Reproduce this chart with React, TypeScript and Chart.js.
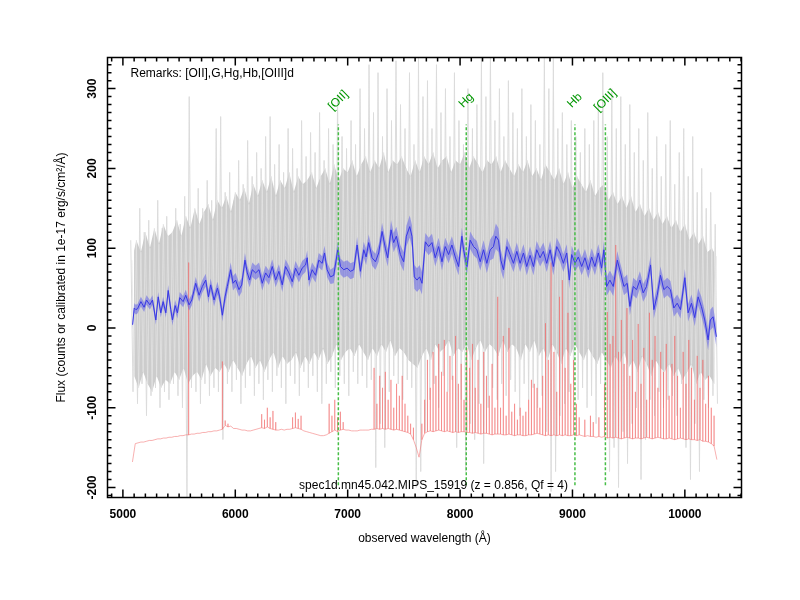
import React, { useEffect, useRef } from 'react';
import { Chart, registerables } from 'chart.js';

Chart.register(...registerables);

const N = null;

// ---------- smoothed spectrum (blue) ----------
const blueWave = [
  5086, 5101, 5115, 5130, 5160, 5189, 5210, 5240, 5263, 5293,
  5314, 5337, 5358, 5382, 5403, 5426, 5441, 5465, 5485, 5506,
  5536, 5559, 5589, 5613, 5648, 5678, 5707, 5737, 5761, 5781,
  5811, 5841, 5861, 5885, 5909, 5929, 5959, 5980, 6003, 6033,
  6057, 6086, 6107, 6128, 6151, 6181, 6211, 6240, 6270, 6299,
  6329, 6359, 6388, 6418, 6447, 6477, 6507, 6536, 6566, 6595,
  6625, 6640, 6655, 6684, 6714, 6743, 6773, 6794, 6817, 6847,
  6876, 6912, 6936, 6965, 6995, 7025, 7054, 7084, 7113, 7143,
  7164, 7187, 7217, 7247, 7276, 7306, 7335, 7356, 7386, 7409,
  7433, 7469, 7498, 7522, 7552, 7572, 7593, 7617, 7640, 7661,
  7691, 7720, 7750, 7779, 7809, 7839, 7868, 7898, 7927, 7957,
  7987, 8016, 8031, 8061, 8090, 8120, 8149, 8179, 8209, 8238,
  8268, 8297, 8318, 8342, 8363, 8386, 8416, 8445, 8475, 8505,
  8534, 8564, 8593, 8623, 8653, 8682, 8712, 8741, 8771, 8801,
  8830, 8860, 8889, 8919, 8949, 8972, 8993, 9023, 9052, 9082,
  9111, 9141, 9171, 9200, 9230, 9259, 9280, 9304, 9333, 9363,
  9399, 9428, 9458, 9487, 9511, 9541, 9570, 9600, 9629, 9659,
  9695, 9724, 9754, 9783, 9813, 9843, 9872, 9902, 9932, 9961,
  10000, 10029, 10059, 10088, 10118, 10147, 10177, 10207, 10227, 10251,
  10281,
];
const blueFlux = [
  4, 25, 23, 24, 33, 26, 35, 29, 35, 10,
  39, 19, 33, 19, 47, 23, 10, 28, 19, 38,
  33, 41, 29, 35, 56, 41, 52, 60, 39, 54,
  35, 50, 39, 16, 39, 52, 73, 56, 60, 48,
  54, 85, 69, 60, 73, 69, 73, 56, 69, 63,
  77, 60, 71, 54, 77, 69, 58, 75, 66, 75,
  79, 88, 60, 73, 66, 85, 81, 94, 73, 64,
  66, 98, 77, 73, 75, 71, 73, 104, 71, 98,
  89, 107, 88, 83, 94, 121, 100, 88, 123, 107,
  115, 92, 83, 115, 127, 115, 64, 60, 64, 56,
  108, 102, 107, 88, 102, 83, 102, 92, 104, 89,
  77, 115, 98, 77, 110, 102, 98, 83, 98, 81,
  98, 102, 115, 110, 85, 73, 102, 92, 81, 96,
  81, 94, 77, 91, 77, 98, 88, 96, 81, 98,
  77, 102, 94, 81, 94, 60, 92, 81, 89, 77,
  88, 73, 89, 77, 94, 75, 98, 52, 60, 52,
  85, 69, 52, 56, 27, 52, 48, 60, 44, 52,
  79, 23, 41, 66, 48, 52, 48, 25, 31, 23,
  63, 19, 31, 13, 39, 27, 10, -15, 10, 14,
  -11,
];
const blueErr = [
  6, 6, 6, 6, 6, 6, 6, 6, 6, 6,
  6, 6, 6, 6, 7, 7, 7, 7, 7, 7,
  7, 7, 7, 7, 8, 8, 8, 8, 8, 8,
  8, 8, 8, 8, 9, 9, 9, 9, 9, 9,
  9, 9, 9, 9, 9, 9, 9, 9, 9, 9,
  9, 9, 9, 9, 9, 9, 9, 9, 9, 9,
  9, 9, 9, 9, 9, 9, 9, 9, 9, 9,
  10, 10, 10, 10, 10, 10, 10, 10, 10, 10,
  10, 10, 10, 10, 11, 11, 11, 11, 12, 12,
  12, 12, 12, 13, 14, 14, 15, 15, 15, 14,
  11, 11, 11, 11, 11, 11, 11, 11, 11, 11,
  11, 11, 11, 11, 11, 11, 11, 11, 12, 12,
  13, 15, 16, 15, 13, 12, 11, 11, 11, 11,
  11, 11, 11, 11, 11, 11, 11, 11, 11, 11,
  11, 11, 11, 11, 11, 11, 11, 11, 11, 11,
  11, 11, 11, 11, 11, 11, 11, 12, 12, 12,
  11, 11, 11, 11, 11, 11, 11, 11, 11, 11,
  11, 11, 11, 11, 11, 11, 11, 11, 11, 11,
  11, 11, 11, 11, 11, 12, 12, 13, 13, 13,
  13,
];

// ---------- raw spectrum (grey): outer excursions, alternating high / low ----------
const GREY_START = 5070;
const GREY_STEP = 20;
const greyHi = [
  110, 95, 150, 120, 135, 100, 160, 125, 140, 115,
  150, 130, 165, 290, 140, 175, 150, 185, 160, 250,
  265, 170, 195, 160, 210, 180, 235, 190, 220, 200,
  240, 265, 205, 230, 195, 250, 225, 200, 260, 215,
  245, 220, 270, 210, 250, 230, 290, 240, 225, 260,
  230, 300, 250, 330, 270, 320, 240, 300, 260, 335,
  280, 250, 320, 230, 340, 290, 310, 250, 330, 270,
  300, 240, 320, 260, 230, 300, 250, 280, 340, 290,
  345, 260, 300, 240, 310, 270, 250, 300, 240, 280,
  260, 230, 345, 300, 340, 250, 270, 230, 260, 240,
  220, 250, 230, 260, 280, 320, 240, 300, 250, 290,
  230, 280, 220, 250, 210, 270, 200, 240, 190, 230,
  260, 180, 220, 250, 190, 240, 170, 200, 150, 170,
  130,
];
const greyLo = [
  -80, -95, -70, -110, -85, -75, -100, -80, -90, -70,
  -85, -100, -215, -75, -80, -95, -70, -85, -75, -80,
  -140, -70, -80, -65, -95, -75, -60, -85, -70, -90,
  -65, -80, -60, -75, -95, -60, -70, -85, -55, -75,
  -60, -80, -95, -70, -55, -75, -60, -70, -85, -55,
  -70, -60, -75, -65, -175, -120, -150, -80, -60, -70,
  -90, -65, -75, -200, -180, -130, -90, -70, -100, -60,
  -80, -65, -150, -90, -180, -120, -140, -95, -170, -100,
  -75, -90, -70, -85, -65, -80, -110, -70, -90, -75,
  -100, -85, -130, -205, -180, -110, -95, -80, -70, -90,
  -75, -100, -85, -120, -70, -90, -180, -150, -200, -130,
  -170, -120, -100, -190, -140, -90, -110, -80, -100, -90,
  -85, -110, -70, -150, -190, -120, -180, -90, -100, -85,
  -95,
];
// ---------- raw spectrum (grey): dense core, alternating high / low ----------
const CORE_START = 5080;
const CORE_STEP = 20;
const coreHi = [
  85, 110, 95, 120, 100, 125, 105, 130, 115, 120,
  135, 115, 140, 125, 150, 130, 145, 155, 135, 160,
  150, 165, 145, 170, 160, 175, 155, 180, 165, 185,
  170, 190, 165, 185, 175, 195, 170, 190, 180, 185,
  195, 175, 190, 200, 180, 205, 185, 200, 195, 210,
  190, 205, 215, 195, 210, 200, 220, 195, 210, 205,
  215, 200, 190, 210, 195, 215, 205, 220, 200, 210,
  215, 195, 210, 205, 220, 200, 215, 205, 195, 210,
  205, 215, 195, 210, 200, 190, 205, 195, 210, 190,
  200, 185, 205, 195, 185, 200, 180, 195, 175, 190,
  180, 170, 185, 165, 175, 180, 160, 170, 155, 165,
  150, 165, 145, 155, 140, 150, 135, 145, 130, 140,
  125, 135, 120, 130, 110, 120, 105, 115, 95, 100,
  90,
];
const coreLo = [
  -60, -75, -55, -70, -80, -60, -75, -65, -70, -55,
  -65, -50, -70, -60, -55, -65, -45, -60, -50, -55,
  -45, -55, -40, -50, -60, -45, -35, -50, -40, -55,
  -40, -30, -50, -35, -45, -40, -30, -50, -35, -45,
  -30, -40, -25, -45, -35, -20, -40, -30, -25, -35,
  -20, -30, -40, -25, -35, -20, -30, -15, -35, -25,
  -30, -40, -45, -50, -35, -25, -40, -20, -30, -25,
  -15, -35, -25, -30, -20, -40, -25, -15, -30, -20,
  -25, -35, -15, -30, -20, -25, -40, -20, -30, -15,
  -35, -25, -40, -20, -30, -45, -25, -35, -20, -30,
  -40, -25, -35, -45, -30, -40, -50, -35, -45, -30,
  -50, -40, -55, -35, -45, -60, -40, -50, -55, -45,
  -60, -50, -65, -55, -45, -70, -55, -65, -60, -70,
];

// ---------- error spectrum (red), offset baseline + spikes ----------
const RED_START = 5085;
const RED_STEP = 25;
const redBase = [
  -168, -145, -144, -143, -143, -142, -141, -141, -140, -139,
  -139, -138, -138, -137, -137, -136, -136, -135, -135, -134,
  -134, -133, -133, -132, -132, -131, -131, -130, -130, -129,
  -129, -128, -127, -122, -124, -123, -126, -126, -127, -128,
  -128, -129, -129, -128, -127, -126, -125, -126, -124, -126,
  -127, -128, -128, -127, -128, -127, -127, -126, -125, -126,
  -127, -129, -130, -131, -132, -133, -134, -135, -135, -134,
  -132, -130, -128, -130, -128, -127, -128, -128, -129, -129,
  -129, -128, -128, -128, -128, -127, -127, -126, -127, -126,
  -127, -126, -127, -128, -127, -128, -129, -130, -131, -133,
  -140, -150, -162, -140, -132, -130, -129, -130, -129, -128,
  -129, -130, -129, -130, -131, -130, -131, -130, -130, -131,
  -131, -132, -131, -132, -133, -132, -132, -133, -134, -133,
  -133, -133, -134, -134, -133, -134, -135, -134, -134, -135,
  -135, -134, -134, -133, -132, -133, -134, -135, -134, -135,
  -134, -135, -134, -135, -134, -135, -135, -134, -135, -134,
  -135, -136, -135, -136, -136, -137, -136, -137, -136, -138,
  -137, -138, -137, -138, -139, -138, -137, -138, -139, -138,
  -138, -139, -138, -137, -138, -139, -138, -137, -138, -139,
  -139, -138, -139, -140, -139, -138, -139, -140, -139, -140,
  -140, -141, -140, -142, -142, -143, -145, -148, -165,
];
const redPeak = [
  N, N, N, N, N, N, N, N, N, N,
  N, N, N, N, N, N, N, N, N, N,
  82, N, N, N, N, N, N, N, N, N,
  N, N, -42, -116, -120, N, N, N, N, N,
  N, N, N, N, N, N, -108, -115, -100, -112,
  -104, -118, N, N, N, N, N, -112, -106, -114,
  -110, N, N, N, N, N, N, N, N, N,
  -95, -110, -90, -112, -105, -118, N, N, N, N,
  N, N, N, N, N, N, -50, -95, -60, -75,
  -55, -90, -65, -100, -70, -85, -60, -95, -110, -120,
  -125, N, N, -120, -90, -40, -75, -30, -60, -20,
  -55, -15, -80, -35, -60, -10, -70, -45, -90, -25,
  -50, -20, -75, -40, -95, -30, -60, -85, -45, -100,
  39, -100, -10, -110, 0, -105, -95, -115, -100, -110,
  -105, -90, -65, -70, -75, -100, -60, 6, -40, 82,
  -30, -80, 39, 60, -50, 19, -70, -40, -95, -112,
  N, -115, N, -110, -118, N, -112, N, -70, 20,
  -20, -10, 104, -30, 10, -45, 25, -60, -15, -80,
  5, -70, -25, -90, 19, -40, -10, -75, -30, -55,
  -20, -85, -45, -10, -60, -100, -30, -70, -15, -50,
  -90, -35, -75, -40, -95, -60, -100, -110, N,
];

// ---------- identified lines ----------
const lineWave = [6917, 8055, 9022, 9293];
const lineName = ['[OII]', 'Hg', 'Hb', '[OIII]'];
const LINE_LO = -197;
const LINE_HI = 255;

// ---------- axes ----------
const X_MIN = 4863;
const X_MAX = 10504;
const Y_MIN = -212.5;
const Y_MAX = 339;
const xTickLabels = [5000, 6000, 7000, 8000, 9000, 10000];
const yTickLabels = [-200, -100, 0, 100, 200, 300];
const remarksText = 'Remarks: [OII],G,Hg,Hb,[OIII]d';
const specText = 'spec1d.mn45.042.MIPS_15919 (z = 0.856, Qf = 4)';
const xTitle = 'observed wavelength (Å)';
const yTitle = 'Flux (counts or calibrated in 1e-17 erg/s/cm²/Å)';

const FONT = '"Liberation Sans", Arial, Helvetica, sans-serif';

const framePlugin = {
  id: 'frameAxes',
  afterDraw(chart: any) {
    const { ctx, chartArea: a, scales } = chart;
    const xs = scales.x;
    const ys = scales.y;
    ctx.save();

    // line labels
    ctx.fillStyle = 'rgb(0,150,0)';
    ctx.font = `12px ${FONT}`;
    ctx.textAlign = 'center';
    ctx.textBaseline = 'middle';
    lineWave.forEach((w, i) => {
      const px = xs.getPixelForValue(w);
      const py = ys.getPixelForValue(LINE_HI) - 24;
      ctx.save();
      ctx.translate(px, py);
      ctx.rotate(-Math.PI / 4);
      ctx.fillText(lineName[i], 0, 0);
      ctx.restore();
    });

    // annotations
    ctx.fillStyle = '#000';
    ctx.textAlign = 'left';
    ctx.fillText(remarksText, a.left + 23, a.top + 16);
    ctx.textAlign = 'center';
    ctx.fillText(specText, (a.left + a.right) / 2 + 9, a.bottom - 12);

    // frame
    ctx.strokeStyle = '#000';
    ctx.lineWidth = 1.5;
    ctx.strokeRect(a.left, a.top, a.right - a.left, a.bottom - a.top);

    // ticks
    ctx.beginPath();
    for (let v = Math.ceil(X_MIN / 100) * 100; v <= X_MAX; v += 100) {
      const px = xs.getPixelForValue(v);
      const len = v % 1000 === 0 ? 8 : 4;
      ctx.moveTo(px, a.bottom);
      ctx.lineTo(px, a.bottom - len);
      ctx.moveTo(px, a.top);
      ctx.lineTo(px, a.top + len);
    }
    for (let v = Math.ceil(Y_MIN / 10) * 10; v <= Y_MAX; v += 10) {
      const py = ys.getPixelForValue(v);
      const len = v % 100 === 0 ? 8 : 4;
      ctx.moveTo(a.left, py);
      ctx.lineTo(a.left + len, py);
      ctx.moveTo(a.right, py);
      ctx.lineTo(a.right - len, py);
    }
    ctx.stroke();

    // tick labels
    ctx.font = `bold 12px ${FONT}`;
    ctx.textAlign = 'center';
    ctx.textBaseline = 'middle';
    xTickLabels.forEach((v) => {
      ctx.fillText(String(v), xs.getPixelForValue(v), a.bottom + 17);
    });
    yTickLabels.forEach((v) => {
      ctx.save();
      ctx.translate(a.left - 15, ys.getPixelForValue(v));
      ctx.rotate(-Math.PI / 2);
      ctx.fillText(String(v), 0, 0);
      ctx.restore();
    });

    // axis titles
    ctx.font = `12px ${FONT}`;
    ctx.fillText(xTitle, (a.left + a.right) / 2, 539);
    ctx.save();
    ctx.translate(62, (a.top + a.bottom) / 2);
    ctx.rotate(-Math.PI / 2);
    ctx.fillText(yTitle, 0, 0);
    ctx.restore();

    ctx.restore();
  },
};

function zigzag(start: number, step: number, hi: number[], lo: number[]) {
  const pts: { x: number; y: number }[] = [];
  const n = hi.length + lo.length;
  for (let k = 0; k < n; k++) {
    const y = k % 2 === 0 ? hi[k / 2] : lo[(k - 1) / 2];
    if (y === undefined) continue;
    pts.push({ x: start + k * step, y });
  }
  return pts;
}

function edge(start: number, step: number, vals: number[]) {
  return vals.map((y, i) => ({ x: start + i * step, y }));
}

function buildRed() {
  const pts: { x: number; y: number }[] = [];
  redBase.forEach((b, i) => {
    const x = RED_START + i * RED_STEP;
    pts.push({ x, y: b });
    const p = redPeak[i];
    if (p !== null && p !== undefined) {
      pts.push({ x, y: p });
      pts.push({ x, y: b });
    }
  });
  return pts;
}

export default function App() {
  const ref = useRef<HTMLCanvasElement | null>(null);

  useEffect(() => {
    document.body.style.margin = '0';
    const canvas = ref.current;
    if (!canvas) return;

    const blueLine = blueWave.map((x, i) => ({ x, y: blueFlux[i] }));
    const blueUp = blueWave.map((x, i) => ({ x, y: blueFlux[i] + (blueErr[i] ?? 10) }));
    const blueDn = blueWave.map((x, i) => ({ x, y: blueFlux[i] - (blueErr[i] ?? 10) }));

    const base = { pointRadius: 0, tension: 0, borderJoinStyle: 'bevel' as const, fill: false };

    const greenSets = lineWave.map((w, i) => ({
      ...base,
      label: lineName[i],
      data: [{ x: w, y: LINE_LO }, { x: w, y: LINE_HI }],
      borderColor: 'rgb(70,190,70)',
      borderWidth: 1.5,
      borderDash: [3, 2],
      borderCapStyle: 'butt',
      order: 0,
    }));

    const datasets: any[] = [
      ...greenSets,
      { ...base, label: 'smoothed', data: blueLine, borderColor: 'rgb(55,55,228)', borderWidth: 1, order: 1 },
      { ...base, label: 'smooth hi', data: blueUp, borderWidth: 0, borderColor: 'rgba(0,0,0,0)', backgroundColor: 'rgba(100,100,232,0.55)', fill: '+1', order: 2 },
      { ...base, label: 'smooth lo', data: blueDn, borderWidth: 0, borderColor: 'rgba(0,0,0,0)', order: 3 },
      { ...base, label: 'error', data: buildRed(), borderColor: 'rgba(242,105,105,0.58)', borderWidth: 0.9, order: 4 },
      { ...base, label: 'raw core streaks', data: zigzag(CORE_START, CORE_STEP, coreHi, coreLo), borderColor: 'rgba(228,228,228,0.75)', borderWidth: 1, order: 5 },
      { ...base, label: 'raw core hi', data: edge(CORE_START, 2 * CORE_STEP, coreHi), borderWidth: 0, borderColor: 'rgba(0,0,0,0)', backgroundColor: 'rgb(204,204,204)', fill: '+1', order: 6 },
      { ...base, label: 'raw core lo', data: edge(CORE_START + CORE_STEP, 2 * CORE_STEP, coreLo), borderWidth: 0, borderColor: 'rgba(0,0,0,0)', order: 7 },
      { ...base, label: 'raw', data: zigzag(GREY_START, GREY_STEP, greyHi, greyLo), borderColor: 'rgb(220,220,220)', borderWidth: 1, order: 8 },
    ];

    const chart = new Chart(canvas, {
      type: 'line',
      data: { datasets },
      options: {
        animation: false,
        responsive: false,
        devicePixelRatio: 1,
        layout: { padding: { left: 107.5, right: 58.5, top: 57.5, bottom: 102.5 } },
        scales: {
          x: { type: 'linear', min: X_MIN, max: X_MAX, display: false },
          y: { type: 'linear', min: Y_MIN, max: Y_MAX, display: false },
        },
        plugins: { legend: { display: false }, tooltip: { enabled: false } },
        events: [],
      },
      plugins: [framePlugin],
    });
    return () => chart.destroy();
  }, []);

  return <canvas ref={ref} width={800} height={600} style={{ display: 'block' }} />;
}
